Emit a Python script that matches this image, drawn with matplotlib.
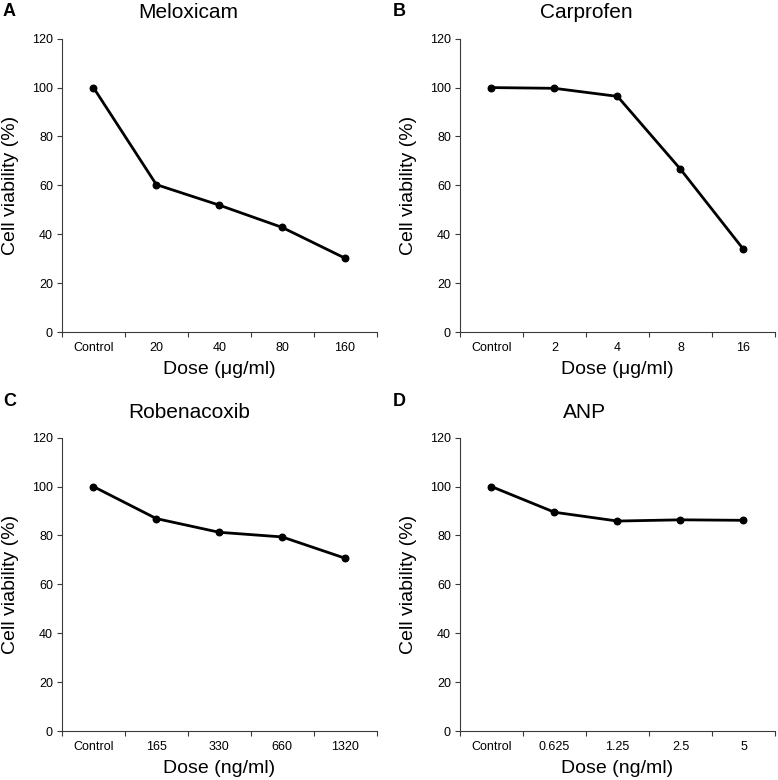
import matplotlib
matplotlib.use("Agg")
import matplotlib.pyplot as plt
import numpy as np

plt.rcParams['font.family'] = ['Liberation Sans', 'DejaVu Sans']

panel_letters = ["A", "B", "C", "D"]
titles = ["Meloxicam", "Carprofen", "Robenacoxib", "ANP"]
xlabels = ["Dose (μg/ml)", "Dose (μg/ml)", "Dose (ng/ml)", "Dose (ng/ml)"]
doses_meloxicam = ["Control", "20", "40", "80", "160"]
doses_carprofen = ["Control", "2", "4", "8", "16"]
doses_robenacoxib = ["Control", "165", "330", "660", "1320"]
doses_anp = ["Control", "0.625", "1.25", "2.5", "5"]
viability_meloxicam = [100, 60.3, 51.9, 42.8, 30.2]
viability_carprofen = [100, 99.7, 96.4, 66.6, 33.8]
viability_robenacoxib = [100, 86.9, 81.3, 79.4, 70.7]
viability_anp = [100, 89.5, 85.9, 86.4, 86.2]

doses = [doses_meloxicam, doses_carprofen, doses_robenacoxib, doses_anp]
values = [viability_meloxicam, viability_carprofen, viability_robenacoxib, viability_anp]

W, H = 778, 780
fig = plt.figure(figsize=(W / 100, H / 100), dpi=100)

# axes boxes in pixels: (left, top, right, bottom)
boxes = [(62, 38.7, 376.5, 332), (460, 38.7, 775, 332),
         (62, 437.7, 376.5, 731), (460, 437.7, 775, 731)]
title_pos = [(188, 13), (586, 13), (189, 413), (585, 413)]
letter_pos = [(3, 12), (393, 12), (3, 402), (393, 402)]

spine_col = '#3a3a3a'
for i in range(4):
    l, t, r, b = boxes[i]
    ax = fig.add_axes([l / W, 1 - b / H, (r - l) / W, (b - t) / H])
    x = np.arange(len(doses[i]))
    ax.plot(x, values[i], color='black', lw=2.0, marker='o', ms=4.7,
            solid_joinstyle='round')
    ax.set_xlim(-0.5, len(doses[i]) - 0.5)
    ax.set_ylim(0, 120)
    ax.set_yticks(np.arange(0, 121, 20))
    ax.set_xticks(np.arange(-0.5, len(doses[i]), 1.0))
    ax.set_xticklabels([])
    ax.set_xticks(x, minor=True)
    ax.set_xticklabels(doses[i], minor=True)
    ax.tick_params(axis='x', which='major', length=3.5, width=0.8, color=spine_col, direction='out')
    ax.tick_params(axis='x', which='minor', length=0, pad=7.5, labelsize=9)
    ax.tick_params(axis='y', length=3.5, width=0.8, color=spine_col, labelsize=9, pad=3)
    for s in ['top', 'right']:
        ax.spines[s].set_visible(False)
    for s in ['left', 'bottom']:
        ax.spines[s].set_color(spine_col)
        ax.spines[s].set_linewidth(0.8)
    ax.set_ylabel("Cell viability (%)", fontsize=14, labelpad=9)
    ax.set_xlabel(xlabels[i], fontsize=14, labelpad=5)
    tx, ty = title_pos[i]
    fig.text(tx / W, 1 - ty / H, titles[i], fontsize=15, ha='center', va='center')
    lx, ly = letter_pos[i]
    fig.text(lx / W, 1 - ly / H, panel_letters[i], fontsize=13, fontweight='bold',
             ha='left', va='center')

fig.savefig("out.png", dpi=100)
